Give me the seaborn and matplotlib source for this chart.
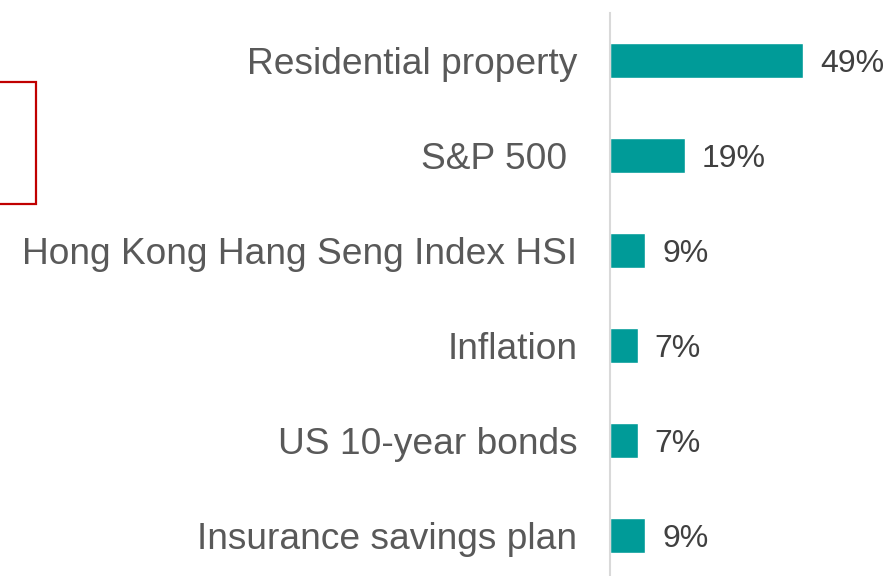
import pandas as pd
import seaborn as sns
import matplotlib.pyplot as plt
from matplotlib.patches import Rectangle

sns.set_style("white")
plt.rcParams['font.family'] = ['Liberation Sans', 'DejaVu Sans']

categories = ["Residential property", "S&P 500 ", "Hong Kong Hang Seng Index HSI",
              "Inflation", "US 10-year bonds", "Insurance savings plan"]
values = [49, 19, 9, 7, 7, 9]

df = pd.DataFrame({"asset": categories, "pct": values})

fig = plt.figure(figsize=(8.86, 5.76), dpi=100)
ax = fig.add_axes([610 / 886, -7 / 576, 276 / 886, 570 / 576])

sns.barplot(data=df, x="pct", y="asset", orient="h", color="#009B98",
            saturation=1, width=0.36, ax=ax)

ax.set_xlim(0, 70)
ax.set_ylim(5.5, -0.5)
ax.set_xlabel("")
ax.set_ylabel("")
ax.set_xticks([])
ax.tick_params(axis="y", length=0, pad=23.5, labelsize=26.7, labelcolor="#595959")
for s in ["top", "right", "bottom"]:
    ax.spines[s].set_visible(False)
ax.spines["left"].set_color("#D9D9D9")
ax.spines["left"].set_linewidth(1.5)

for i, v in enumerate(values):
    ax.text(v + 4.3, i, "%d%%" % v, va="center_baseline", ha="left",
            fontsize=23, color="#404040")

# red box partly cut off at left edge
fig.patches.append(Rectangle((-10 / 886, 1 - 204 / 576), 46 / 886, 122 / 576,
                             transform=fig.transFigure, fill=False,
                             edgecolor="#C00000", linewidth=1.6))

plt.savefig("out.png", dpi=100)
